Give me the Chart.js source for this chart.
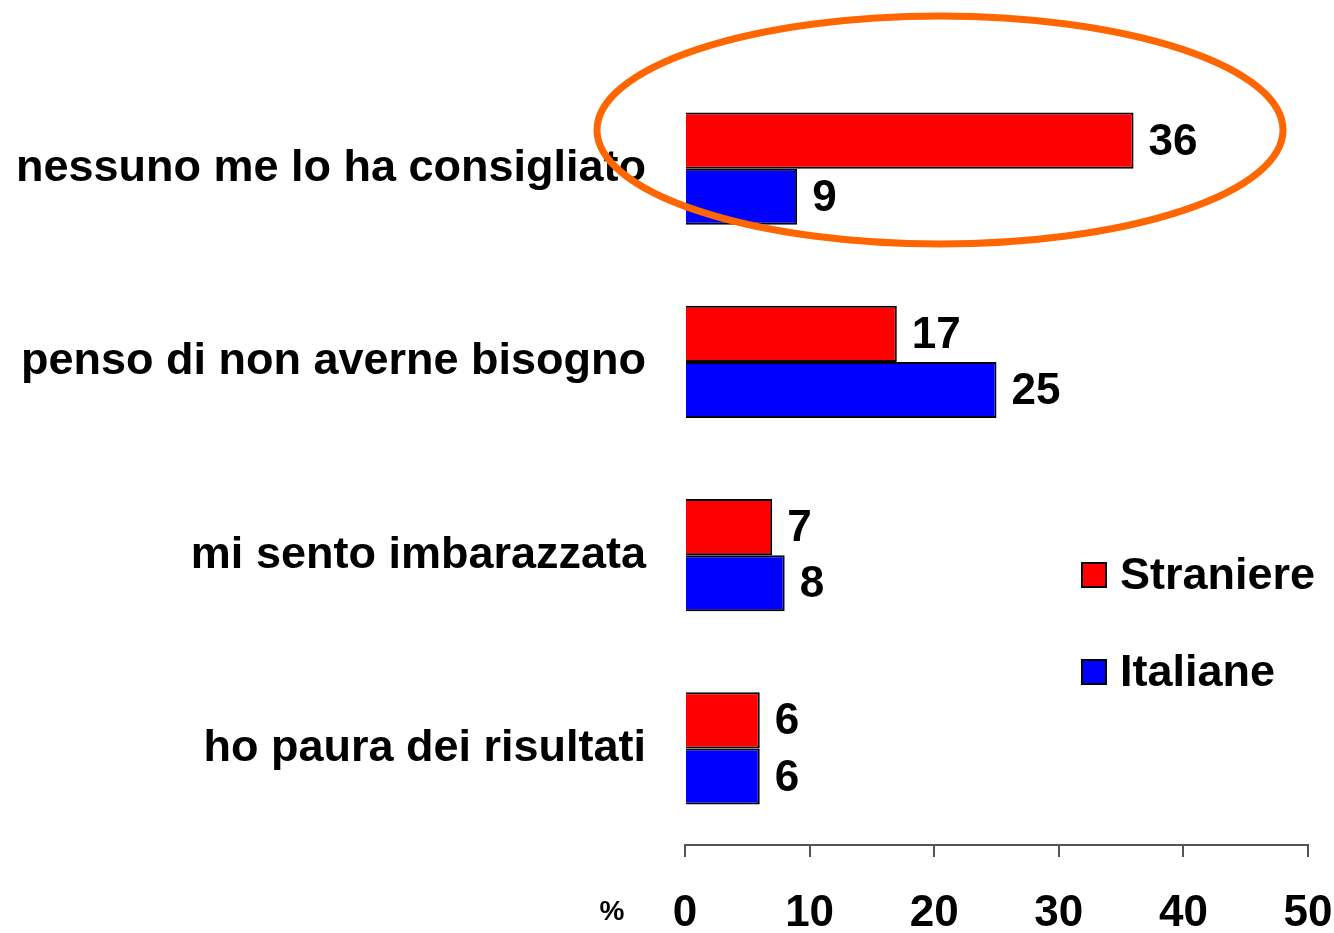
<!DOCTYPE html>
<html>
<head>
<meta charset="utf-8">
<script src="https://cdn.jsdelivr.net/npm/chart.js@4.4.0/dist/chart.umd.min.js"></script>
<style>
  html, body { margin: 0; padding: 0; background: #fff; }
  #wrap { width: 1334px; height: 933px; }
</style>
</head>
<body>
<div id="wrap"><canvas id="myChart" width="1334" height="933"></canvas></div>
<script>
// data
const categories = ["nessuno me lo ha consigliato", "penso di non averne bisogno", "mi sento imbarazzata", "ho paura dei risultati"];
const straniere = [36, 17, 7, 6];
const italiane = [9, 25, 8, 6];
const seriesNames = ["Straniere", "Italiane"];
const xTicks = [0, 10, 20, 30, 40, 50];

const FONT = "'Liberation Sans', Arial, Helvetica, sans-serif";

// value labels at the end of each bar
const valueLabels = {
  id: "valueLabels",
  afterDatasetsDraw(chart) {
    const ctx = chart.ctx;
    ctx.save();
    ctx.font = "bold 44px " + FONT;
    ctx.fillStyle = "#000";
    ctx.textAlign = "left";
    ctx.textBaseline = "middle";
    chart.data.datasets.forEach((ds, i) => {
      chart.getDatasetMeta(i).data.forEach((bar, j) => {
        ctx.fillText(ds.data[j], bar.x + 15, bar.y + 2);
      });
    });
    ctx.restore();
  }
};

// legend drawn over the plot, plus the % label and the orange ring
const extras = {
  id: "extras",
  afterDraw(chart) {
    const ctx = chart.ctx;
    ctx.save();
    const items = chart.data.datasets;
    const lx = 1082, ly = [575, 672];
    ctx.font = "bold 45px " + FONT;
    ctx.textBaseline = "middle";
    items.forEach((ds, i) => {
      ctx.fillStyle = ds.backgroundColor;
      ctx.fillRect(lx, ly[i] - 12, 24, 24);
      ctx.lineWidth = 2;
      ctx.strokeStyle = "#000";
      ctx.strokeRect(lx, ly[i] - 12, 24, 24);
      ctx.fillStyle = "#000";
      ctx.fillText(ds.label, lx + 38, ly[i] + 2);
    });
    ctx.font = "bold 28px " + FONT;
    ctx.textAlign = "center";
    ctx.fillText("%", 612, 912);
    ctx.beginPath();
    ctx.ellipse(940, 130, 343, 114, 0, 0, Math.PI * 2);
    ctx.lineWidth = 7;
    ctx.strokeStyle = "#ff6600";
    ctx.stroke();
    ctx.restore();
  }
};

const ctx = document.getElementById("myChart").getContext("2d");
const chart = new Chart(ctx, {
  type: "bar",
  data: {
    labels: categories,
    datasets: [
      {
        label: seriesNames[0],
        backgroundColor: "#ff0000",
        borderColor: "#000",
        borderWidth: 2,
        data: straniere
      },
      {
        label: seriesNames[1],
        backgroundColor: "#0000ff",
        borderColor: "#000",
        borderWidth: 2,
        data: italiane
      }
    ]
  },
  options: {
    indexAxis: "y",
    responsive: false,
    animation: false,
    devicePixelRatio: 1,
    layout: { padding: { top: 72, right: 0, bottom: 0, left: 0 } },
    datasets: { bar: { barPercentage: 1, categoryPercentage: 0.58 } },
    plugins: {
      legend: { display: false },
      tooltip: { enabled: false }
    },
    scales: {
      x: {
        min: 0,
        max: 50,
        afterBuildTicks(axis) { axis.ticks = xTicks.map(v => ({ value: v })); },
        afterFit(axis) { axis.height = 88; axis.paddingRight = 26; axis.paddingLeft = 0; },
        grid: { drawOnChartArea: false, drawTicks: true, tickLength: 12, color: "#555", lineWidth: 2 },
        border: { display: true, color: "#555", width: 2 },
        ticks: { color: "#000", font: { family: FONT, size: 44, weight: "bold" }, padding: 30, maxRotation: 0 }
      },
      y: {
        afterFit(axis) { axis.width = 685; },
        grid: { display: false },
        border: { display: false },
        ticks: { color: "#000", font: { family: FONT, size: 45, weight: "bold" }, padding: 31 }
      }
    }
  },
  plugins: [valueLabels, extras]
});
</script>
</body>
</html>
